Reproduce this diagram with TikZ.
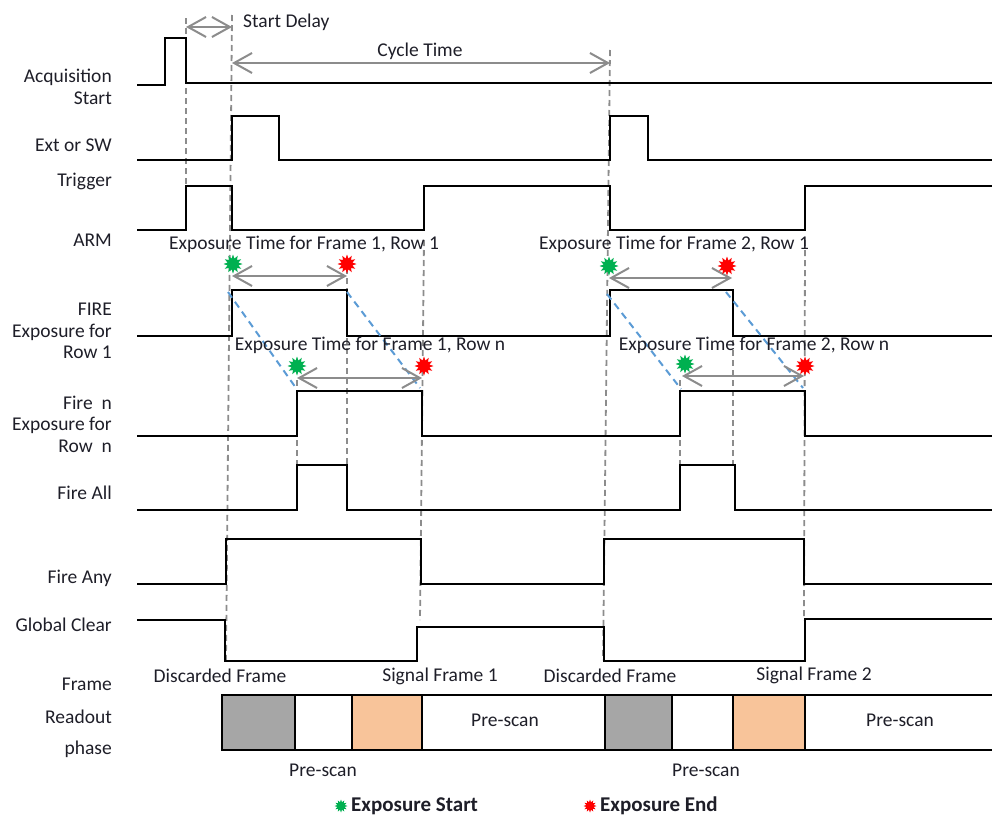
\documentclass[tikz,border=0pt]{standalone}
\usepackage{fontspec}
\setmainfont{Carlito}
\usetikzlibrary{arrows.meta,positioning,shapes.geometric}
\definecolor{expGreen}{HTML}{00B050}
\definecolor{expRed}{HTML}{FF0000}
\definecolor{dimGray}{HTML}{8C8C8C}
\definecolor{slopeBlue}{HTML}{5B9BD5}
\definecolor{cellGray}{HTML}{A6A6A6}
\definecolor{cellPeach}{HTML}{F8C49A}
\definecolor{txt}{HTML}{1E1E28}

\begin{document}
\begin{tikzpicture}[x=1pt,y=-1pt,
    wave/.style={line width=2.4pt,line join=miter},
    guide/.style={dimGray,line width=1.8pt,dash pattern=on 6pt off 4pt},
    dim/.style={dimGray,line width=2pt,{Straight Barb[length=18pt,width=20pt]}-{Straight Barb[length=18pt,width=20pt]}},
    slope/.style={slopeBlue,line width=2pt,dash pattern=on 7pt off 5pt},
    sig/.style={anchor=east,align=right,text=txt,inner sep=0pt,font=\fontsize{19.5}{21.5}\selectfont},
    lab/.style={text=txt,inner sep=0pt,font=\fontsize{19.5}{21.5}\selectfont},
    burst/.style={star,star points=12,star point ratio=1.7,minimum size=19pt,inner sep=0pt,fill=#1,draw=none},
    cell/.style={draw=black,line width=2.6pt}]
  \useasboundingbox (0,0) rectangle (992,817);

  % signal names
  \node[sig] (lAcq) at (112,87) {Acquisition\\Start};
  \node[sig] (lTrigA) at (112,145) {Ext or SW};
  \node[sig] (lTrigB) at (112,181) {Trigger};
  \node[sig] (lArm) at (112,240) {ARM};
  \node[sig] (lRowA) at (112,331) {FIRE\\Exposure for\\Row 1};
  \node[sig] (lRowN) at (112,424) {Fire~~n\\Exposure for\\Row~~n};
  \node[sig] (lAll) at (112,493) {Fire All};
  \node[sig] (lAny) at (112,578) {Fire Any};
  \node[sig] (lClear) at (112,625) {Global Clear};
  \node[sig] (lFrame) at (112,684) {Frame};
  \node[sig] (lRead) at (112,717) {Readout};
  \node[sig] (lPhase) at (112,749) {phase};

  % guide lines
  \foreach \xa/\ya/\xb/\yb in {186/18/186/186, 232/15/226/660, 610/50/603/660,
      424/240/420/620, 805/240/804/620, 347/258/347/465, 733/290/733/465,
      297/380/297/465, 680/380/680/465} {
    \draw[guide] (\xa,\ya) -- (\xb,\yb);
  }

  % waveforms
  \draw[wave] (137,85) -- (165,85) -- (165,38) -- (186,38) -- (186,83) -- (992,83);
  \draw[wave] (137,160) -- (232,160) -- (232,116) -- (279,116) -- (279,160) -- (610,160)
    -- (610,116) -- (648,116) -- (648,160) -- (992,160);
  \draw[wave] (137,230) -- (186,230) -- (186,186) -- (232,186) -- (232,230) -- (424,230)
    -- (424,186) -- (610,186) -- (610,230) -- (805,230) -- (805,186) -- (992,186);
  \draw[wave] (137,336) -- (232,336) -- (232,290) -- (347,290) -- (347,336) -- (610,336)
    -- (610,290) -- (733,290) -- (733,336) -- (992,336);
  \draw[wave] (137,436) -- (297,436) -- (297,391) -- (422,391) -- (422,436) -- (680,436)
    -- (680,391) -- (805,391) -- (805,436) -- (992,436);
  \draw[wave] (137,510) -- (297,510) -- (297,465) -- (347,465) -- (347,510) -- (680,510)
    -- (680,465) -- (735,465) -- (735,510) -- (992,510);
  \draw[wave] (137,584) -- (226,584) -- (226,539) -- (421,539) -- (421,584) -- (604,584)
    -- (604,539) -- (804,539) -- (804,584) -- (992,584);
  \draw[wave] (137,620) -- (225,620) -- (225,661) -- (417,661) -- (417,627) -- (604,627)
    -- (604,661) -- (805,661) -- (805,619) -- (992,619);

  % rolling shutter slopes
  \draw[slope] (228,292) -- (296,388);
  \draw[slope] (347,292) -- (420,388);
  \draw[slope] (607,294) -- (681,389);
  \draw[slope] (726,292) -- (803,388);

  % timing arrows
  \coordinate (sdA) at (186,27);  \coordinate (sdB) at (232,27);
  \coordinate (ctA) at (232,63);  \coordinate (ctB) at (610,63);
  \coordinate (e1A) at (232,276); \coordinate (e1B) at (347,276);
  \coordinate (e1C) at (297,378); \coordinate (e1D) at (422,378);
  \coordinate (e2A) at (609,278); \coordinate (e2B) at (732,278);
  \coordinate (e2C) at (682,376); \coordinate (e2D) at (804,376);
  \draw[dim] (sdA) -- (sdB);
  \draw[dim] (ctA) -- (ctB);
  \draw[dim] (e1A) -- (e1B);
  \draw[dim] (e1C) -- (e1D);
  \draw[dim] (e2A) -- (e2B);
  \draw[dim] (e2C) -- (e2D);
  \node[lab,anchor=west] (tDelay) at (243,22) {Start Delay};
  \node[lab] (tCycle) at (420,51) {Cycle Time};
  \node[lab] (tE1A) at (304,244) {Exposure Time for Frame 1, Row 1};
  \node[lab] (tE1N) at (370,345) {Exposure Time for Frame 1, Row n};
  \node[lab] (tE2A) at (674,244) {Exposure Time for Frame 2, Row 1};
  \node[lab] (tE2N) at (754,345) {Exposure Time for Frame 2, Row n};

  % exposure markers
  \foreach \n/\px/\py/\c in {s1/233/264/expGreen, f1/347/264/expRed, s2/297/366/expGreen,
      f2/424/366/expRed, s3/609/266/expGreen, f3/727/266/expRed, s4/685/364/expGreen,
      f4/805/366/expRed} {
    \node[burst=\c] (\n) at (\px,\py) {};
  }

  % readout phase
  \foreach \xa/\xb/\col in {222/295/cellGray, 295/352/white, 352/422/cellPeach, 422/605/white,
      605/672/cellGray, 672/733/white, 733/805/cellPeach, 805/1000/white} {
    \draw[cell,fill=\col] (\xa,695) rectangle (\xb,750);
  }
  \node[lab] (pre1) at (505,720) {Pre-scan};
  \node[lab] (pre2) at (900,720) {Pre-scan};
  \node[lab] (pre3) at (323,770) {Pre-scan};
  \node[lab] (pre4) at (706,770) {Pre-scan};
  \node[lab] (fDis1) at (220,676) {Discarded Frame};
  \node[lab] (fSig1) at (440,676) {Signal Frame 1};
  \node[lab] (fDis2) at (610,676) {Discarded Frame};
  \node[lab] (fSig2) at (814,675) {Signal Frame 2};

  % legend
  \node[burst=expGreen,minimum size=13pt] (kStart) at (341,806) {};
  \node[lab,anchor=west,font=\fontsize{21}{24}\selectfont\bfseries] (kStartT) at (351,806) {Exposure Start};
  \node[burst=expRed,minimum size=13pt] (kEnd) at (590,806) {};
  \node[lab,anchor=west,font=\fontsize{21}{24}\selectfont\bfseries] (kEndT) at (600,806) {Exposure End};
\end{tikzpicture}
\end{document}
